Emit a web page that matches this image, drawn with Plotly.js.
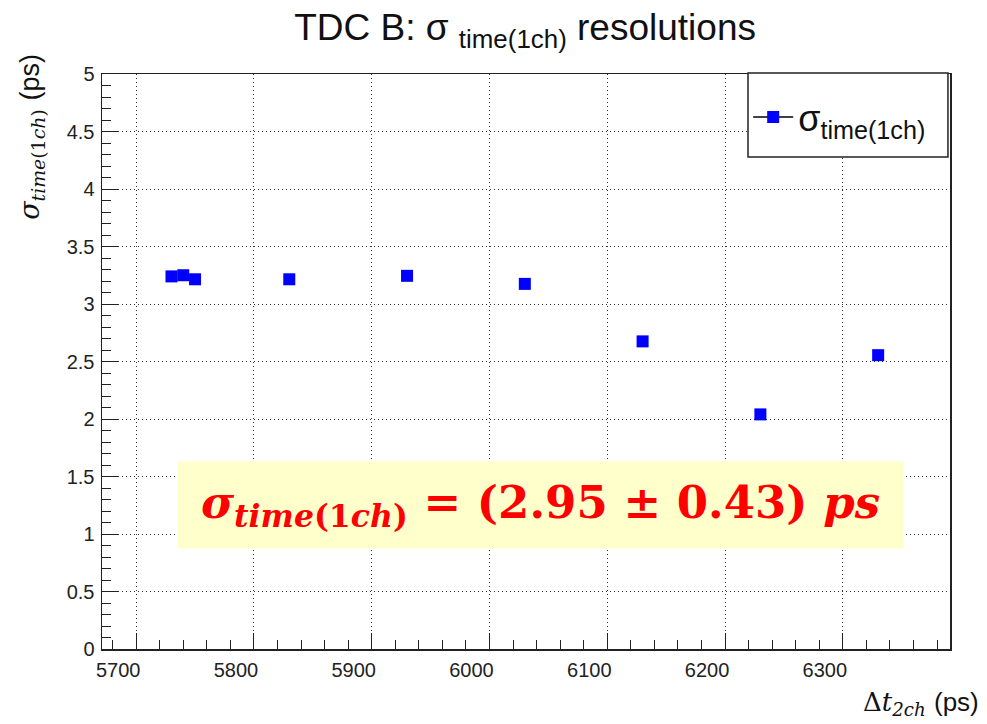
<!DOCTYPE html>
<html>
<head>
<meta charset="utf-8">
<script src="https://cdn.plot.ly/plotly-3.0.1.min.js"></script>
<style>html,body{margin:0;padding:0;background:#fff;}</style>
</head>
<body>
<div id="chart" style="width:987px;height:724px;"></div>
<script>
// Data
const deltaT2ch = [5730, 5740, 5750, 5830, 5930, 6030, 6130, 6230, 6330];
const sigmaTime1ch = [3.24, 3.25, 3.215, 3.215, 3.245, 3.175, 2.675, 2.04, 2.555];
const seriesName = "σ<sub>time(1ch)</sub>";
const yTicks = [0, 0.5, 1, 1.5, 2, 2.5, 3, 3.5, 4, 4.5, 5];
const yTickLabels = ["0", "0.5", "1", "1.5", "2", "2.5", "3", "3.5", "4", "4.5", "5"];
const xTicks = [5700, 5800, 5900, 6000, 6100, 6200, 6300];
const xTickLabels = ["5700", "5800", "5900", "6000", "6100", "6200", "6300"];
const resultText = "<b><i>σ</i><sub><i>time</i>(1<i>ch</i>)</sub> = (2.95 ± 0.43) <i>ps</i></b>";

const traces = [
  {
    x: deltaT2ch, y: sigmaTime1ch, type: "scatter", mode: "markers",
    marker: {symbol: "square", size: 12, color: "#0000ff"},
    showlegend: false, hoverinfo: "x+y"
  },
  {
    x: [null], y: [null], type: "scatter", mode: "lines+markers",
    name: seriesName,
    line: {color: "#000", width: 1.5},
    marker: {symbol: "square", size: 12, color: "#0000ff"},
    showlegend: true
  }
];

const sans = "Liberation Sans, Arial, sans-serif";
const axisFont = {family: sans, size: 20, color: "#222"};
const gridDash = "1px,3px";

const layout = {
  width: 987, height: 724,
  margin: {l: 102, r: 37, t: 74, b: 75},
  paper_bgcolor: "#fff", plot_bgcolor: "#fff",
  title: {
    text: "TDC B: σ <sub>time(1ch)</sub> resolutions",
    font: {family: sans, size: 37, color: "#111"},
    x: 0.532, xanchor: "center", y: 0.962, yanchor: "middle", yref: "container"
  },
  xaxis: {
    range: [5671, 6391],
    tickvals: xTicks, ticktext: xTickLabels,
    ticks: "inside", ticklen: 16, tickcolor: "#222", tickwidth: 1,
    ticklabelshift: -18, ticklabelstandoff: 2,
    minor: {dtick: 20, ticks: "inside", ticklen: 9, tickcolor: "#222", showgrid: false},
    showline: true, linecolor: "#222", linewidth: 1.5, mirror: true,
    showgrid: true, gridcolor: "#333", griddash: gridDash, gridwidth: 1,
    zeroline: false, tickfont: axisFont
  },
  yaxis: {
    range: [0, 5],
    tickvals: yTicks, ticktext: yTickLabels,
    ticks: "inside", ticklen: 16, tickcolor: "#222", tickwidth: 1,
    ticklabelstandoff: 2,
    minor: {dtick: 0.1, ticks: "inside", ticklen: 9, tickcolor: "#222", showgrid: false},
    showline: true, linecolor: "#222", linewidth: 1.5, mirror: true,
    showgrid: true, gridcolor: "#333", griddash: gridDash, gridwidth: 1,
    zeroline: false, tickfont: axisFont
  },
  legend: {
    x: 0.762, xanchor: "left", y: 0.925, yanchor: "middle",
    bgcolor: "rgba(0,0,0,0)", borderwidth: 0,
    font: {family: sans, size: 36, color: "#111"},
    itemwidth: 40, entrywidth: 188, valign: "middle"
  },
  shapes: [
    {
      type: "rect", xref: "paper", yref: "paper",
      x0: 0.7618, x1: 0.9976, y0: 0.8557, y1: 1.0017,
      fillcolor: "#fff", line: {color: "#222", width: 1.5}, layer: "above"
    }
  ],
  annotations: [
    {
      xref: "paper", yref: "paper", x: 0.517, y: 0.2504,
      xanchor: "center", yanchor: "middle",
      text: resultText, showarrow: false,
      width: 725, height: 86, borderpad: 0,
      bgcolor: "#ffffcc",
      font: {family: "DejaVu Serif, Liberation Serif, serif", size: 45, color: "#ff0000"}
    },
    {
      xref: "paper", yref: "paper", x: -0.083, y: 0.89,
      xanchor: "center", yanchor: "middle", textangle: -90,
      text: "<i>σ</i><sub><i>time</i>(1<i>ch</i>)</sub> <span style=\"font-family:Liberation Sans, Arial, sans-serif\">(ps)</span>", showarrow: false,
      font: {family: "DejaVu Serif, serif", size: 27, color: "#111"}
    },
    {
      xref: "paper", yref: "paper", x: 1.037, y: -0.094,
      xanchor: "right", yanchor: "middle",
      text: "Δ<i>t</i><sub><i>2ch</i></sub> <span style=\"font-family:Liberation Sans, Arial, sans-serif\">(ps)</span>", showarrow: false,
      font: {family: "DejaVu Serif, serif", size: 26, color: "#111"}
    }
  ]
};

Plotly.newPlot("chart", traces, layout, {displayModeBar: false, staticPlot: true});
</script>
</body>
</html>
